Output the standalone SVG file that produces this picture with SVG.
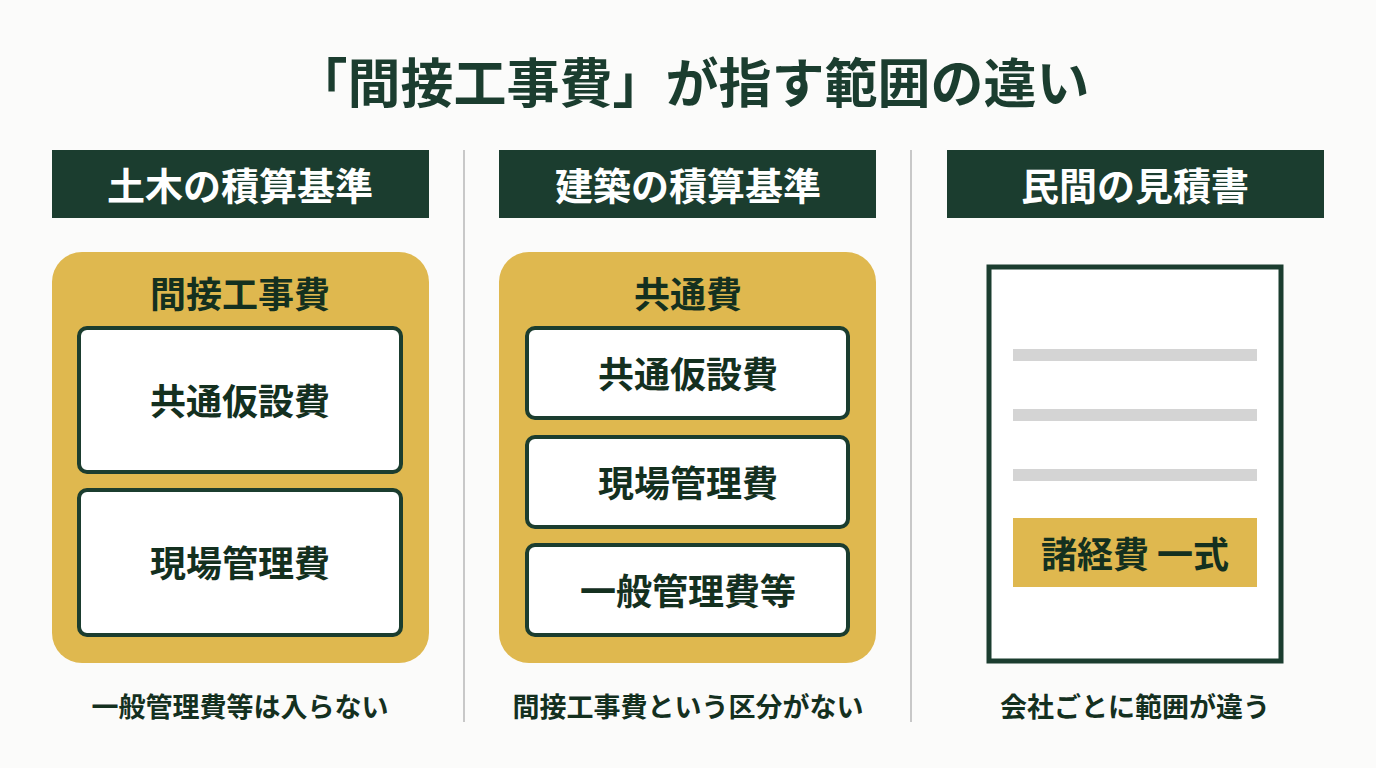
<svg xmlns="http://www.w3.org/2000/svg" width="1376" height="768" viewBox="0 0 1376 768">
<style>
text{font-family:"Noto Sans CJK JP","Noto Sans CJK SC",sans-serif;font-weight:700;text-anchor:middle;dominant-baseline:central}
.hdr{fill:#1b3d2f}
.hdrt{fill:#ffffff;font-size:38px}
.gold{fill:#dfb84f}
.box{fill:#ffffff;stroke:#1b3d2f;stroke-width:4}
.dk{fill:#14301f}
.t34{font-size:36px}
.cap{font-size:27px;fill:#14301f}
.bar{fill:#d4d4d4}
.div{stroke:#c8c8c8;stroke-width:2}
</style>
<rect width="1376" height="768" fill="#fbfbfa"/>
<text x="692" y="80" font-size="53" fill="#1b3d2f">「間接工事費」が指す範囲の違い</text>
<g id="dividers">
<line class="div" x1="464" y1="150" x2="464" y2="722"/>
<line class="div" x1="911" y1="150" x2="911" y2="722"/>
</g>
<g id="col1">
<rect class="hdr" x="52" y="150" width="377" height="68"/>
<text class="hdrt" x="240" y="183">土木の積算基準</text>
<rect class="gold" x="52" y="252" width="377" height="411" rx="30"/>
<text class="dk t34" x="240" y="292">間接工事費</text>
<rect class="box" x="79" y="328" width="322" height="144" rx="8"/>
<text class="dk t34" x="240" y="399">共通仮設費</text>
<rect class="box" x="79" y="490" width="322" height="145" rx="8"/>
<text class="dk t34" x="240" y="561">現場管理費</text>
<text class="cap" x="240" y="705">一般管理費等は入らない</text>
</g>
<g id="col2">
<rect class="hdr" x="499" y="150" width="377" height="68"/>
<text class="hdrt" x="688" y="183">建築の積算基準</text>
<rect class="gold" x="499" y="252" width="377" height="411" rx="30"/>
<text class="dk t34" x="688" y="292">共通費</text>
<rect class="box" x="527" y="328" width="321" height="90" rx="8"/>
<text class="dk t34" x="688" y="372">共通仮設費</text>
<rect class="box" x="527" y="437" width="321" height="90" rx="8"/>
<text class="dk t34" x="688" y="481">現場管理費</text>
<rect class="box" x="527" y="545" width="321" height="90" rx="8"/>
<text class="dk t34" x="688" y="589">一般管理費等</text>
<text class="cap" x="688" y="705">間接工事費という区分がない</text>
</g>
<g id="col3">
<rect class="hdr" x="947" y="150" width="377" height="68"/>
<text class="hdrt" x="1135" y="183">民間の見積書</text>
<rect x="989" y="267" width="292" height="394" fill="#ffffff" stroke="#1b3d2f" stroke-width="5"/>
<rect class="bar" x="1013" y="349" width="244" height="12"/>
<rect class="bar" x="1013" y="409" width="244" height="12"/>
<rect class="bar" x="1013" y="469" width="244" height="12"/>
<rect class="gold" x="1013" y="518" width="244" height="69"/>
<text class="dk t34" x="1135" y="552">諸経費 一式</text>
<text class="cap" x="1135" y="705">会社ごとに範囲が違う</text>
</g>
</svg>
